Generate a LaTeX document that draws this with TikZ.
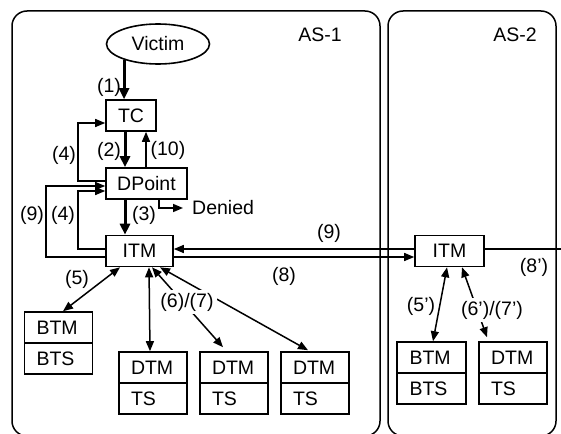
\documentclass[tikz,border=0pt]{standalone}
\usepackage{fontspec}
\setmainfont{Liberation Sans}
\usetikzlibrary{calc,arrows.meta,shapes.geometric}
\begin{document}
\begin{tikzpicture}[x=1pt,y=-1pt,
 font=\fontsize{19.5}{22}\selectfont,
 box/.style={draw,line width=1.6pt,rectangle,minimum height=31pt,inner sep=0pt},
 cell/.style={draw,line width=1.6pt,rectangle,minimum height=31pt,minimum width=68pt,text width=44pt,inner xsep=12pt,inner ysep=0pt,align=left},
 asbox/.style={draw,line width=1.5pt,rounded corners=15pt},
 conn/.style={line width=1.5pt},
 arr/.style={conn,-{Triangle[length=10pt,width=8pt]}},
 darr/.style={conn,{Triangle[length=10pt,width=8pt]}-{Triangle[length=10pt,width=8pt]}},
 tarr/.style={line width=3pt,-{Triangle[length=11pt,width=10pt]}},
 lbl/.style={inner sep=1pt},
 wlbl/.style={fill=white,inner sep=3pt},
]
\useasboundingbox (0,0) rectangle (561,433);
% AS containers
\draw[asbox] (12,11) rectangle (380,436);
\draw[asbox] (388,11) rectangle (556,436);
\node[lbl] (as1) at (320,35) {AS-1};
\node[lbl] (as2) at (515,35) {AS-2};
% nodes
\node[draw,ellipse,line width=1.6pt,minimum width=103pt,minimum height=40pt,inner sep=0pt] (victim) at (158,44) {Victim};
\node[box,minimum width=50pt] (tc) at (131,115.5) {TC};
\node[box,minimum width=81pt] (dpoint) at (146.5,183.5) {DPoint};
\node[box,minimum width=67pt] (itm1) at (139.5,251) {ITM};
\node[box,minimum width=69pt] (itm2) at (449.5,251) {ITM};
\node[anchor=west,inner xsep=9pt,inner ysep=1pt] (denied) at (183,208) {Denied};
\node[cell,minimum width=67pt] (btm1) at (58.5,327.5) {BTM};
\node[cell,minimum width=67pt] (bts1) at (58.5,358.5) {BTS};
\node[cell] (dtm1) at (153,367.5) {DTM};
\node[cell] (ts1) at (153,398.5) {TS};
\node[cell] (dtm2) at (234,367.5) {DTM};
\node[cell] (ts2) at (234,398.5) {TS};
\node[cell] (dtm3) at (315,367.5) {DTM};
\node[cell] (ts3) at (315,398.5) {TS};
\node[cell,minimum width=69pt] (btm2) at (431.5,357.5) {BTM};
\node[cell,minimum width=69pt] (bts2) at (431.5,388.5) {BTS};
\node[cell] (dtm4) at (513,357.5) {DTM};
\node[cell] (ts4) at (513,388.5) {TS};
% vertical flow
\draw[tarr] (victim.205) -- (victim.205 |- tc.north);
\draw[tarr] ($(tc.south)+(-6,0)$) -- ($(tc.south |- dpoint.north)+(-6,0)$);
\draw[arr] ($(tc.south |- dpoint.north)+(15,0)$) -- ($(tc.south)+(15,0)$);
\draw[tarr] ($(itm1.north |- dpoint.south)+(-14.5,0)$) -- ($(itm1.north)+(-14.5,0)$);
\draw[arr] ($(dpoint.south)+(12.5,0)$) |- (denied.west);
% loops on the left
\draw[arr] ($(dpoint.west)+(0,-2.5)$) -- ++(-27,0) |- ($(tc.west)+(0,7.5)$);
\draw[arr] ($(itm1.west)+(0,-2)$) -- ++(-27,0) |- ($(dpoint.west)+(0,7.5)$);
\draw[arr] ($(itm1.west)+(0,6)$) -- ++(-59,0) |- ($(dpoint.west)+(0,2.5)$);
% inter-AS links
\draw[arr] ($(itm2.west)+(0,-2)$) -- ($(itm1.east)+(0,-2)$);
\draw[arr] ($(itm1.east)+(0,6)$) -- ($(itm2.west)+(0,6)$);
\draw[conn] ($(itm2.east)+(0,-2)$) -- ++(82,0);
% lower links AS-1
\draw[darr] ($(btm1.north)+(4.5,0)$) -- ($(itm1.south)+(-19.5,0)$);
\draw[darr] ($(itm1.south)+(9.5,0)$) -- ($(dtm1.north)+(-3,0)$);
\draw[darr] ($(itm1.south)+(12.5,0)$) -- ($(dtm2.north)+(-11,-4)$);
\draw[darr] ($(itm1.south)+(20.5,0)$) -- ($(dtm3.north)+(-7,-1)$);
% lower links AS-2
\draw[darr] ($(btm2.north)+(1.5,0)$) -- ($(itm2.south)+(-2.5,0)$);
\draw[darr] ($(itm2.south)+(12.5,0)$) -- ($(dtm4.north)+(-26,-4)$);
% labels
\node[lbl] (l1) at (109,87) {(1)};
\node[lbl] (l2) at (109,151) {(2)};
\node[lbl] (l10) at (168,150) {(10)};
\node[lbl] (l4a) at (64,155) {(4)};
\node[lbl] (l9a) at (32,215) {(9)};
\node[lbl] (l4b) at (63,215) {(4)};
\node[lbl] (l3) at (144,215) {(3)};
\node[lbl] (l9b) at (329,233) {(9)};
\node[lbl] (l8) at (284,276) {(8)};
\node[lbl] (l5) at (77,279) {(5)};
\node[wlbl] (l67) at (187,302) {(6)/(7)};
\node[lbl] (l8p) at (534,267) {(8’)};
\node[lbl] (l5p) at (421,306) {(5’)};
\node[wlbl] (l67p) at (492,310) {(6’)/(7’)};
\end{tikzpicture}
\end{document}
